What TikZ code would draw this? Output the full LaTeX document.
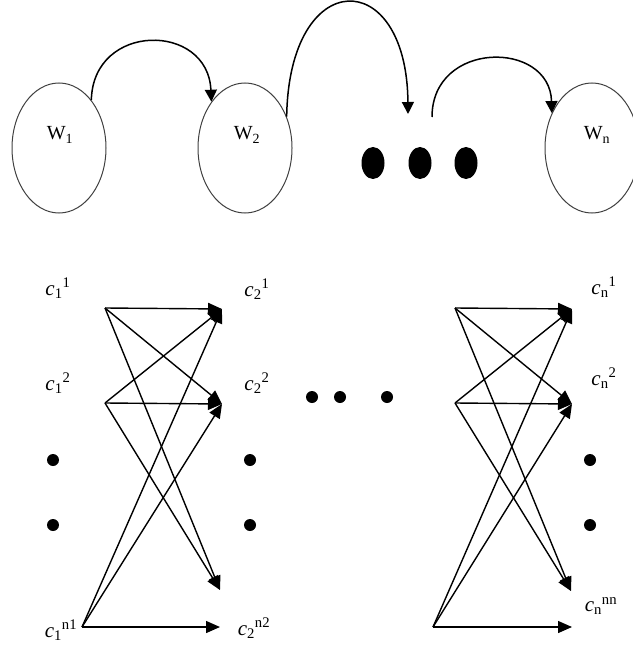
\documentclass[tikz,border=0pt]{standalone}
\usepackage{fontspec}
\setmainfont{Liberation Serif}
\usetikzlibrary{arrows.meta,shapes.geometric}
\tikzset{
  world/.style={ellipse,draw=black!75,line width=1pt,minimum width=94pt,minimum height=130pt,inner sep=0pt},
  wlabel/.style={font=\fontsize{20}{22}\selectfont},
  clabel/.style={font=\fontsize{21}{23}\selectfont,inner sep=0pt},
  hop/.style={line width=1.5pt,-{Triangle[length=12pt,width=12pt]}},
  link/.style={line width=1.4pt,-{Triangle[length=14pt,width=12pt]}},
  bigdot/.style={ellipse,fill=black,minimum width=23pt,minimum height=32pt,inner sep=0pt},
  smalldot/.style={circle,fill=black,minimum size=12pt,inner sep=0pt}
}
\newcommand{\cl}[3]{\textit{c}\textsubscript{#1}\textsuperscript{#2}}
\begin{document}
\begin{tikzpicture}[x=1pt,y=-1pt]
\useasboundingbox (0,0) rectangle (632,655);
% top row
\node[world] (W1) at (59,148) {};
\node[world] (W2) at (245,148) {};
\node[world] (Wn) at (592,148) {};
\node[wlabel] (W1t) at (60,135) {W\textsubscript{1}};
\node[wlabel] (W2t) at (247,135) {W\textsubscript{2}};
\node[wlabel] (Wnt) at (597,135) {W\textsubscript{n}};
\node[bigdot] (d1) at (373,163) {};
\node[bigdot] (d2) at (420,163) {};
\node[bigdot] (d3) at (466,163) {};
\coordinate (a2end) at (408,114);
\coordinate (a3start) at (432,117);
\draw[hop] (W1.56) .. controls (93,22) and (208,22) .. (W2.126);
\draw[hop] (W2.37) .. controls (289,-35) and (407,-35) .. (a2end);
\draw[hop] (a3start) .. controls (432,40) and (550,40) .. (Wn.139);
% bottom labels
\node[clabel] (c11) at (58,288) {\cl{1}{1}{}};
\node[clabel] (c12) at (58,383) {\cl{1}{2}{}};
\node[clabel] (c1n) at (61,630) {\cl{1}{n1}{}};
\node[clabel] (c21) at (257,289) {\cl{2}{1}{}};
\node[clabel] (c22) at (257,383) {\cl{2}{2}{}};
\node[clabel] (c2n) at (254,628) {\cl{2}{n2}{}};
\node[clabel] (cn1) at (604,287) {\cl{n}{1}{}};
\node[clabel] (cn2) at (604,378) {\cl{n}{2}{}};
\node[clabel] (cnn) at (601,606) {\cl{n}{nn}{}};
% small dots
\node[smalldot] (p1) at (53,460) {};
\node[smalldot] (p2) at (53,525) {};
\node[smalldot] (p3) at (250,460) {};
\node[smalldot] (p4) at (250,525) {};
\node[smalldot] (p5) at (590,460) {};
\node[smalldot] (p6) at (590,525) {};
\node[smalldot] (m1) at (312,397) {};
\node[smalldot] (m2) at (340,397) {};
\node[smalldot] (m3) at (387,397) {};
% left group
\coordinate (s1) at (105,308);
\coordinate (s2) at (105,403);
\coordinate (s3) at (82,627);
\coordinate (t1) at (222,309);
\coordinate (t2) at (222,404);
\coordinate (t3) at (220,590);
\coordinate (t4) at (220,627);
\foreach \a/\b in {s1/t1,s1/t2,s1/t3,s2/t1,s2/t2,s2/t3,s3/t1,s3/t2,s3/t4}
  \draw[link] (\a) -- (\b);
% right group
\coordinate (r1) at (455,308);
\coordinate (r2) at (455,403);
\coordinate (r3) at (433,627);
\coordinate (u1) at (572,309);
\coordinate (u2) at (572,404);
\coordinate (u3) at (571,591);
\coordinate (u4) at (572,627);
\foreach \a/\b in {r1/u1,r1/u2,r1/u3,r2/u1,r2/u2,r2/u3,r3/u1,r3/u2,r3/u4}
  \draw[link] (\a) -- (\b);
\end{tikzpicture}
\end{document}
